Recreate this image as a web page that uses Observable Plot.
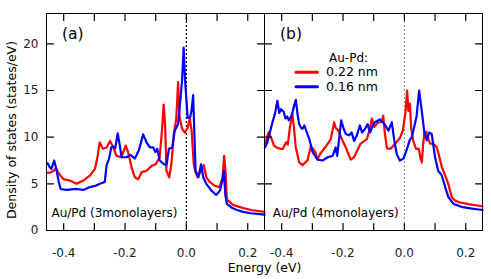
<!DOCTYPE html>
<html><head><meta charset="utf-8">
<script src="https://cdn.jsdelivr.net/npm/d3@7"></script>
<script src="https://cdn.jsdelivr.net/npm/@observablehq/plot@0.6"></script>
<style>body{margin:0;background:#fff}</style>
</head><body><div id="chart"></div>
<script>
const panels = ["a", "b"];
const panelLabels = ["(a)", "(b)"];
const sampleLabels = ["Au/Pd (3monolayers)", "Au/Pd (4monolayers)"];
const legendTitle = "Au-Pd:";
const seriesNames = ["0.22 nm", "0.16 nm"];
const seriesColors = ["#ff0000", "#0000ff"];
const xLabel = "Energy (eV)";
const yLabel = "Density of states (states/eV)";
const xTickLabels = [-0.4, -0.2, 0, 0.2];
const xTickMarks = [-0.4, -0.3, -0.2, -0.1, 0, 0.1, 0.2];
const yTicks = [0, 5, 10, 15, 20];

// panel (a): [energy eV, DOS]
const aRed = [[-0.452,6.2],[-0.444,6.2],[-0.432,6.4],[-0.425,6.7],[-0.418,6.2],[-0.401,5.5],[-0.38,5.35],[-0.358,5.0],[-0.336,5.35],[-0.314,5.9],[-0.298,6.6],[-0.289,8.0],[-0.283,9.45],[-0.272,8.75],[-0.26,8.9],[-0.249,9.6],[-0.238,8.9],[-0.228,8.0],[-0.212,7.85],[-0.198,9.1],[-0.19,8.4],[-0.179,6.8],[-0.168,5.7],[-0.157,5.5],[-0.146,6.25],[-0.13,6.4],[-0.114,6.9],[-0.1,7.1],[-0.087,7.85],[-0.079,11.0],[-0.074,13.5],[-0.069,11.1],[-0.065,6.4],[-0.056,5.7],[-0.049,7.1],[-0.041,10.35],[-0.033,12.0],[-0.027,15.9],[-0.022,12.1],[-0.014,10.9],[-0.005,10.5],[0.004,11.0],[0.011,12.0],[0.017,10.7],[0.024,7.1],[0.03,6.2],[0.037,5.7],[0.048,6.4],[0.057,7.0],[0.065,5.7],[0.076,5.2],[0.092,4.8],[0.108,4.65],[0.118,5.7],[0.123,8.0],[0.128,6.1],[0.132,3.3],[0.152,2.75],[0.18,2.45],[0.21,2.2],[0.2546,2.0]];
const aBlue = [[-0.452,7.2],[-0.446,6.8],[-0.44,6.6],[-0.431,7.5],[-0.424,6.6],[-0.417,5.35],[-0.41,4.45],[-0.39,4.35],[-0.358,4.45],[-0.336,4.35],[-0.314,4.65],[-0.296,4.8],[-0.282,5.0],[-0.266,5.2],[-0.26,7.0],[-0.252,7.7],[-0.245,8.9],[-0.238,9.0],[-0.232,8.8],[-0.224,10.4],[-0.218,9.3],[-0.211,7.85],[-0.195,7.85],[-0.182,8.1],[-0.168,7.7],[-0.155,8.6],[-0.141,10.3],[-0.13,9.45],[-0.119,8.9],[-0.108,8.9],[-0.101,8.4],[-0.095,8.75],[-0.087,7.5],[-0.075,7.15],[-0.065,7.0],[-0.057,8.75],[-0.046,8.9],[-0.038,10.7],[-0.027,11.4],[-0.022,13.2],[-0.014,16.1],[-0.009,19.6],[-0.004,16.0],[0.004,12.1],[0.012,12.1],[0.017,12.9],[0.022,14.5],[0.026,10.4],[0.03,6.4],[0.039,5.7],[0.048,7.1],[0.055,5.7],[0.065,5.0],[0.081,4.3],[0.097,3.8],[0.11,4.3],[0.118,5.5],[0.122,6.4],[0.127,3.8],[0.132,2.85],[0.15,2.4],[0.165,2.2],[0.185,2.0],[0.21,1.85],[0.2546,1.7]];

// panel (b): [energy eV, DOS]
const bRed = [[-0.455,9.2],[-0.443,10.5],[-0.435,10.0],[-0.425,9.1],[-0.417,8.9],[-0.405,8.75],[-0.396,8.75],[-0.386,9.45],[-0.38,9.2],[-0.373,11.1],[-0.365,12.5],[-0.36,11.0],[-0.354,8.9],[-0.343,7.3],[-0.332,7.0],[-0.316,7.5],[-0.305,9.0],[-0.298,8.75],[-0.29,8.4],[-0.283,7.6],[-0.275,8.2],[-0.256,9.0],[-0.24,9.8],[-0.229,11.6],[-0.224,11.0],[-0.215,10.7],[-0.202,9.65],[-0.191,8.9],[-0.175,7.6],[-0.164,7.85],[-0.143,9.3],[-0.122,9.8],[-0.112,11.0],[-0.106,12.0],[-0.098,11.1],[-0.085,11.6],[-0.075,11.6],[-0.069,12.3],[-0.064,10.5],[-0.057,8.8],[-0.045,8.75],[-0.03,9.3],[-0.015,9.9],[-0.005,10.7],[0.004,12.8],[0.009,15.0],[0.013,12.8],[0.018,13.6],[0.022,11.0],[0.029,9.6],[0.038,8.75],[0.047,8.75],[0.052,7.8],[0.057,7.3],[0.061,9.2],[0.065,10.4],[0.071,10.6],[0.078,9.8],[0.084,9.3],[0.094,9.3],[0.104,9.0],[0.11,8.4],[0.116,7.6],[0.122,6.8],[0.133,5.9],[0.143,5.0],[0.154,3.6],[0.165,3.2],[0.181,3.0],[0.213,2.8],[0.2546,2.6]];
const bBlue = [[-0.455,8.9],[-0.447,9.4],[-0.437,10.7],[-0.43,11.6],[-0.422,12.5],[-0.414,13.9],[-0.408,12.6],[-0.402,13.0],[-0.393,12.7],[-0.388,12.0],[-0.382,12.2],[-0.377,11.8],[-0.371,12.1],[-0.366,12.5],[-0.36,13.3],[-0.354,14.0],[-0.348,12.4],[-0.343,11.4],[-0.337,11.0],[-0.332,10.9],[-0.326,11.25],[-0.318,10.5],[-0.31,9.8],[-0.299,8.4],[-0.283,7.6],[-0.267,7.5],[-0.25,7.85],[-0.234,8.0],[-0.224,8.9],[-0.219,8.0],[-0.212,10.0],[-0.206,11.8],[-0.198,10.9],[-0.191,10.35],[-0.18,10.2],[-0.172,10.5],[-0.164,9.6],[-0.155,10.2],[-0.145,11.25],[-0.138,10.5],[-0.128,10.9],[-0.12,11.4],[-0.112,10.5],[-0.103,11.25],[-0.096,11.6],[-0.08,11.9],[-0.065,11.4],[-0.052,10.7],[-0.041,11.6],[-0.033,9.65],[-0.025,8.2],[-0.015,7.5],[-0.003,7.7],[0.0085,8.75],[0.017,9.65],[0.024,10.0],[0.032,11.1],[0.04,12.3],[0.048,15.0],[0.057,12.7],[0.065,10.5],[0.073,9.65],[0.081,10.5],[0.089,10.35],[0.1,7.85],[0.11,6.4],[0.122,5.9],[0.133,4.65],[0.143,3.6],[0.16,2.85],[0.19,2.5],[0.22,2.35],[0.2546,2.2]];

const rows = [];
[[aRed, 0, 0], [aBlue, 0, 1], [bRed, 1, 0], [bBlue, 1, 1]].forEach(([arr, p, s]) =>
  arr.forEach(([e, v]) => rows.push({panel: panels[p], series: seriesNames[s], e, v})));

const font = "DejaVu Sans, sans-serif";
const xDomain = [-0.456, 0.2546];
const yDomain = [0, 23.25];
const frameW = (491 - 45 - 9) / 2;
const frameH = 279 - 13 - 49;
const tickLen = 7;
const tx = (xDomain[1] - xDomain[0]) * tickLen / frameW;
const ty = (yDomain[1] - yDomain[0]) * tickLen / frameH;

const panelRows = panels.map((p, i) => ({panel: p, label: panelLabels[i], sample: sampleLabels[i]}));
const rowA = panelRows.filter(d => d.panel === "a");
const rowB = panelRows.filter(d => d.panel === "b");
const legendRows = seriesNames.map((s, i) => ({panel: panels[1], series: s, i}));

// inward tick segments (two end points each), built from the tick arrays
const tickSegs = [];
panels.forEach(p => {
  xTickMarks.forEach(t => {
    tickSegs.push({panel: p, id: `${p}b${t}`, x: t, y: yDomain[0]}, {panel: p, id: `${p}b${t}`, x: t, y: yDomain[0] + ty});
    tickSegs.push({panel: p, id: `${p}t${t}`, x: t, y: yDomain[1] - ty}, {panel: p, id: `${p}t${t}`, x: t, y: yDomain[1]});
  });
  yTicks.forEach(t => {
    tickSegs.push({panel: p, id: `${p}l${t}`, x: xDomain[0], y: t}, {panel: p, id: `${p}l${t}`, x: xDomain[0] + tx, y: t});
    tickSegs.push({panel: p, id: `${p}r${t}`, x: xDomain[1] - tx, y: t}, {panel: p, id: `${p}r${t}`, x: xDomain[1], y: t});
  });
});

const legendMarks = legendRows.flatMap((d, i) => [
  Plot.text([d], {fx: "panel", text: "series", frameAnchor: "top-left", textAnchor: "start", lineAnchor: "middle", dx: 61.5, dy: 58.7 + i * 14.7, fontSize: 12.5, fill: "#000"}),
  Plot.vector([d], {fx: "panel", frameAnchor: "top-left", anchor: "start", rotate: 90, length: 21.5, r: 0, stroke: "series", strokeWidth: 3, dx: 31.5, dy: 58.7 + i * 14.5})
]);

const chart = Plot.plot({
  width: 491, height: 279,
  marginTop: 13, marginBottom: 49, marginLeft: 45, marginRight: 9,
  style: {fontFamily: font, fontSize: "12px", background: "#fff", color: "#000"},
  fx: {domain: panels, padding: 0, axis: null, label: null},
  x: {domain: xDomain, label: null, axis: null},
  y: {domain: yDomain, label: null, axis: null},
  color: {domain: seriesNames, range: seriesColors},
  marks: [
    Plot.ruleX(rowA, {fx: "panel", x: () => 0, stroke: "#000", strokeWidth: 1.2, strokeDasharray: "2,2"}),
    Plot.ruleX(rowB, {fx: "panel", x: () => 0, stroke: "#888", strokeWidth: 1, strokeDasharray: "2,2"}),
    Plot.line(rows, {fx: "panel", x: "e", y: "v", z: "series", stroke: "series", strokeWidth: 2.2}),
    Plot.frame({stroke: "#000", strokeWidth: 1}),
    Plot.line(tickSegs, {fx: "panel", x: "x", y: "y", z: "id", stroke: "#000", strokeWidth: 1.2}),
    Plot.axisX(xTickLabels, {anchor: "bottom", tickSize: 0, tickPadding: 18, tickFormat: d => d.toFixed(1), label: null, fill: "#222", fontSize: 12}),
    Plot.axisY(yTicks, {anchor: "left", tickSize: 0, tickPadding: 8, tickFormat: d => String(d), label: null, fill: "#222", fontSize: 12}),
    Plot.text(panelRows, {fx: "panel", text: "label", frameAnchor: "top-left", textAnchor: "start", lineAnchor: "middle", dx: 15.5, dy: 20.7, fontSize: 15.5, fill: "#000"}),
    Plot.text(rowA, {fx: "panel", text: "sample", frameAnchor: "bottom-left", textAnchor: "start", lineAnchor: "middle", dx: 5, dy: -17.5, fontSize: 12, fill: "#000"}),
    Plot.text(rowB, {fx: "panel", text: "sample", frameAnchor: "bottom-left", textAnchor: "start", lineAnchor: "middle", dx: 8.2, dy: -17.5, fontSize: 12, fill: "#000"}),
    Plot.text(rowA, {fx: "panel", text: () => yLabel, frameAnchor: "left", rotate: -90, textAnchor: "middle", lineAnchor: "middle", dx: -34.5, dy: 8, fontSize: 12.5, fill: "#000"}),
    Plot.text(rowA, {fx: "panel", text: () => xLabel, frameAnchor: "bottom-right", textAnchor: "middle", lineAnchor: "middle", dy: 37, fontSize: 12.5, fill: "#000"}),
    Plot.text(rowB, {fx: "panel", text: () => legendTitle, frameAnchor: "top-left", textAnchor: "start", lineAnchor: "middle", dx: 64.5, dy: 45, fontSize: 12, fill: "#000"}),
    ...legendMarks
  ]
});
document.getElementById("chart").appendChild(chart);
</script>
</body></html>
